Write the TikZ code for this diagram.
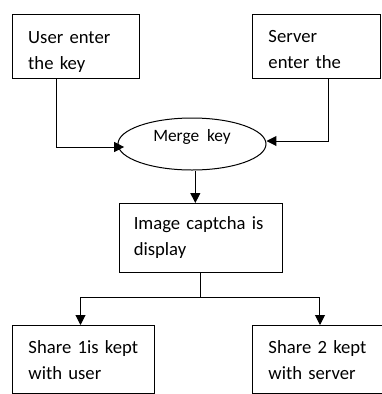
\documentclass[tikz,border=0pt]{standalone}
\usepackage{fontspec}
\setmainfont{Carlito}
\usetikzlibrary{arrows.meta}
\usetikzlibrary{shapes.geometric}
\usetikzlibrary{positioning}
\tikzset{arrowed/.style = {-{Triangle[length=7.5pt, width=7.5pt]}}}
\tikzset{stepbox/.style = {draw, line width = 0.75pt, anchor = north west, align = left,
                           inner ysep = 0, font = \fontsize{14}{19.5}\selectfont}}
\newcommand{\toprule}[1]{\rule{0pt}{#1}}

\begin{document}
\begin{tikzpicture}[x = 0.75pt, y = -0.75pt, line width = 0.75pt]
    \clip (0, 0) rectangle (382, 394);
    \node [stepbox, minimum width = 95.25pt, minimum height = 48pt, inner xsep = 11.8pt,
           text width = 71.65pt] (user) at (12, 14) {\toprule{16.5pt}User enter\\the key};
    \node [stepbox, minimum width = 96pt, minimum height = 48pt, inner xsep = 12pt,
           text width = 72pt] (server) at (252, 14) {\toprule{13.5pt}Server\\enter the};
    \node [ellipse, draw, inner sep = 0, minimum width = 111pt, minimum height = 39pt,
           text height = 8pt, text depth = 12.5pt,
           font = \fontsize{13}{16}\selectfont] (merge) at (192, 144) {Merge\ \ key};
    \node [stepbox, minimum width = 122.25pt, minimum height = 51.75pt, inner xsep = 10.7pt,
           text width = 100.85pt] (captcha) at (119, 203) {Image captcha is\\display};
    \node [stepbox, minimum width = 106.5pt, inner xsep = 12pt, inner ysep = 11pt,
           text width = 82.5pt] (share1) at (12, 325) {Share 1is kept\\with user};
    \node [stepbox, minimum width = 105pt, inner xsep = 12pt, inner ysep = 11pt,
           text width = 81pt] (share2) at (252, 325) {Share 2 kept\\with server};
    \draw [arrowed] ([xshift = 33.75pt]user.south west) |- ([xshift = 5pt, yshift = -2.25pt]merge.west);
    \draw [arrowed] ([xshift = 57.75pt]server.south west) |- ([yshift = 2.25pt]merge.east);
    \draw [arrowed] ([xshift = 2.5pt]merge.south) -- ([xshift = 2.5pt]merge.south |- captcha.north);
    \draw [arrowed] (captcha.south) -- ++(0, 24) -| ([xshift = -2.25pt]share1.north);
    \draw [arrowed] (captcha.south) -- ++(0, 24) -| ([xshift = 51pt]share2.north west);
  \end{tikzpicture}
\end{document}
